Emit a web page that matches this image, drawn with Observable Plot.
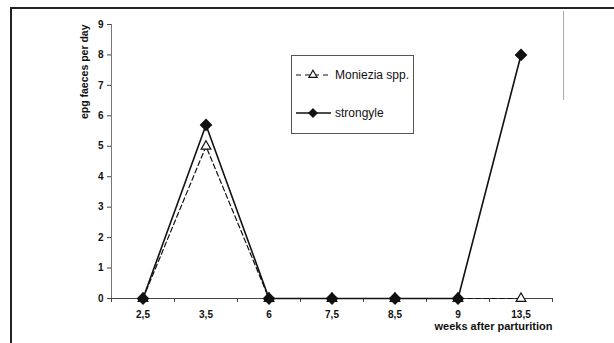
<!DOCTYPE html>
<html>
<head>
<meta charset="utf-8">
<script src="https://cdn.jsdelivr.net/npm/d3@7"></script>
<script src="https://cdn.jsdelivr.net/npm/@observablehq/plot@0.6"></script>
<style>
  html, body { margin: 0; padding: 0; background: #fff; overflow: hidden; }
  #wrap { position: relative; width: 614px; height: 343px; }
  #frame { position: absolute; left: 10px; top: 7px; width: 700px; height: 400px;
           border-top: 2px solid #222; border-left: 2px solid #222; pointer-events: none; }
  #sep { position: absolute; left: 563px; top: 11px; width: 1px; height: 89px; background: #aaa; }
  #chart { position: absolute; left: 0; top: 0; }
</style>
</head>
<body>
<div id="wrap">
  <div id="chart"></div>
  <div id="frame"></div>
  <div id="sep"></div>
</div>
<script>
const weeks = ["2,5", "3,5", "6", "7,5", "8,5", "9", "13,5"];
const moniezia = [0, 5, 0, 0, 0, 0, 0];
const strongyle = [0, 5.7, 0, 0, 0, 0, 8];
const yTicks = [0, 1, 2, 3, 4, 5, 6, 7, 8, 9];
const seriesNames = ["Moniezia spp.", "strongyle"];
const yTitle = "epg faeces per day";
const xTitle = "weeks after parturition";

const idx = d3.range(weeks.length);
const pos = i => i + 0.5;
const font = "Liberation Sans, Arial, sans-serif";

const chart = Plot.plot({
  width: 614,
  height: 343,
  marginLeft: 111,
  marginRight: 62,
  marginTop: 24,
  marginBottom: 45,
  style: { fontFamily: font, fontSize: "10px", color: "#111", background: "transparent" },
  x: { domain: [0, weeks.length] },
  y: { domain: [0, 9] },
  marks: [
    Plot.axisY({ ticks: yTicks, tickSize: 4, tickPadding: 4, label: null, stroke: "#444",
                 fontWeight: "bold", fill: "#111" }),
    Plot.axisX({ ticks: d3.range(weeks.length + 1), tickFormat: () => "", tickSize: 4,
                 label: null, stroke: "#444" }),
    Plot.axisX({ ticks: idx.map(pos), tickFormat: v => weeks[Math.floor(v)], tickSize: 0,
                 tickPadding: 12, label: null, fontWeight: "bold", fill: "#111" }),
    Plot.ruleY([0], { stroke: "#444", strokeWidth: 1.2 }),
    Plot.ruleX([0], { stroke: "#777", strokeWidth: 1 }),
    Plot.line(idx, { x: pos, y: i => moniezia[i], stroke: "#111", strokeWidth: 1.2,
                     strokeDasharray: "5,3" }),
    Plot.line(idx, { x: pos, y: i => strongyle[i], stroke: "#111", strokeWidth: 1.6 }),
    Plot.dot(idx, { x: pos, y: i => moniezia[i], symbol: "triangle", r: 3.6,
                    fill: "#fff", stroke: "#111", strokeWidth: 1.2 }),
    Plot.dot(idx, { x: pos, y: i => strongyle[i], symbol: "diamond2", r: 4.8,
                    fill: "#111", stroke: "#111" }),
    Plot.text([yTitle], { frameAnchor: "top-left", text: d => d, rotate: -90,
                          textAnchor: "end", dx: -31, fontWeight: "bold", fontSize: 10.5, fill: "#111" }),
    Plot.text([xTitle], { frameAnchor: "bottom-right", text: d => d, textAnchor: "end",
                          dy: 31, fontWeight: "bold", fontSize: 11, fill: "#111" })
  ]
});
document.getElementById("chart").appendChild(chart);

// Legend box drawn into the same SVG
const svg = d3.select(chart);
const lg = svg.append("g").attr("font-family", font).attr("font-size", 12)
  .attr("text-anchor", "start");
lg.append("rect").attr("x", 291.5).attr("y", 55.5).attr("width", 122).attr("height", 78)
  .attr("fill", "#fff").attr("stroke", "#555").attr("stroke-width", 1);
const rows = [
  { name: seriesNames[0], y: 75, dash: "5,4", sym: d3.symbolTriangle, size: 30, fill: "#fff" },
  { name: seriesNames[1], y: 113, dash: null, sym: d3.symbolDiamond2, size: 45, fill: "#111" }
];
rows.forEach(r => {
  lg.append("line").attr("x1", 296).attr("x2", 331).attr("y1", r.y).attr("y2", r.y)
    .attr("stroke", "#111").attr("stroke-width", r.dash ? 1.2 : 1.5)
    .attr("stroke-dasharray", r.dash);
  lg.append("path").attr("d", d3.symbol(r.sym, r.size)())
    .attr("transform", `translate(313,${r.y})`)
    .attr("fill", r.fill).attr("stroke", "#111").attr("stroke-width", 1.1);
  lg.append("text").attr("x", 335).attr("y", r.y).attr("dy", "0.35em")
    .attr("text-anchor", "start").attr("fill", "#111").text(r.name);
});
</script>
</body>
</html>
